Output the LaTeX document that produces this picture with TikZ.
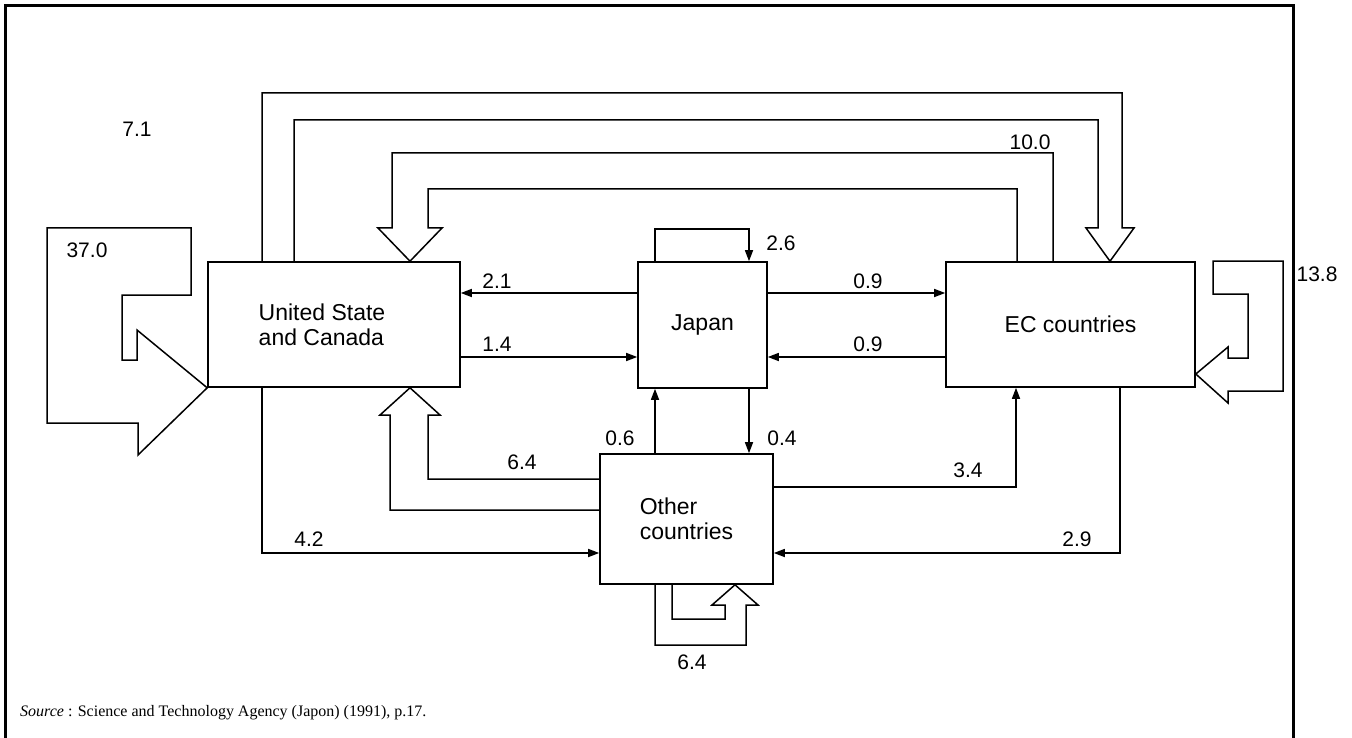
\documentclass[tikz,border=0pt]{standalone}
\usepackage{fontspec}
\setmainfont{Liberation Sans}
\newfontfamily\srcfont{Liberation Serif}
\usetikzlibrary{arrows.meta,calc}
\begin{document}
\begin{tikzpicture}[x=1pt,y=-1pt,
  box/.style={draw,line width=1.6pt,rectangle,inner sep=0pt,font=\fontsize{23}{25}\selectfont,align=left},
  conn/.style={line width=1.5pt},
  arr/.style={conn,-{Triangle[length=11pt,width=8pt]}},
  hollow/.style={line width=1.5pt,line join=miter},
  lbl/.style={font=\fontsize{21}{21}\selectfont,inner sep=0pt}]
\useasboundingbox (0,0) rectangle (1352,738);
\fill[white] (0,0) rectangle (1352,738);
\draw[line width=3pt] (5,745) -- (5,6) -- (1293,6) -- (1293,745);
% boxes
\node[box,minimum width=252pt,minimum height=125pt] (us) at (334,324.5) {United State\rule{24pt}{0pt}\\and Canada};
\node[box,minimum width=129pt,minimum height=126pt] (jp) at (702.5,325) {Japan};
\node[box,minimum width=249pt,minimum height=125pt] (ec) at (1070.5,324.5) {EC countries};
\node[box,minimum width=173pt,minimum height=130pt] (ot) at (686.5,519) {Other\\countries};
% straight connectors
\draw[arr] (jp.west |- 0,293) -- (us.east |- 0,293);
\draw[arr] (us.east |- 0,357) -- (jp.west |- 0,357);
\draw[arr] (jp.east |- 0,293) -- (ec.west |- 0,293);
\draw[arr] (ec.west |- 0,357) -- (jp.east |- 0,357);
\draw[arr] (jp.north -| 655,0) -- (655,229) -- (749,229) -- (jp.north -| 749,0);
\draw[arr] (jp.south -| 749,0) -- (ot.north -| 749,0);
\draw[arr] (ot.north -| 655,0) -- (jp.south -| 655,0);
\draw[arr] (us.south -| 262,0) -- (262,553) -- (ot.west |- 0,553);
\draw[arr] (ot.east |- 0,487) -- (1016,487) -- (ec.south -| 1016,0);
\draw[arr] (ec.south -| 1120,0) -- (1120,553) -- (ot.east |- 0,553);
% hollow arrows
\draw[hollow] (us.north -| 262,0) -- (262,93) -- (1122,93) -- (1122,228) -- (1134,228) -- (ec.north -| 1110,0) -- (1086,228) -- (1098,228) -- (1098,120) -- (294,120) -- (us.north -| 294,0);
\draw[hollow] (ec.north -| 1053,0) -- (1053,153) -- (392,153) -- (392,228) -- (378,228) -- (us.north -| 410,0) -- (442,228) -- (428,228) -- (428,189) -- (1017,189) -- (ec.north -| 1017,0);
\draw[hollow] (ot.west |- 0,510) -- (390,510) -- (390,415) -- (380,415) -- (us.south -| 410,0) -- (440,415) -- (428,415) -- (428,479) -- (ot.west |- 0,479);
\draw[hollow] (ot.south -| 655,0) -- (655,645) -- (746,645) -- (746,605) -- (758,605) -- (ot.south -| 735,0) -- (712,605) -- (725,605) -- (725,619) -- (672,619) -- (ot.south -| 672,0);
\draw[hollow] (191,228) -- (47,228) -- (47,423) -- (138,423) -- (138,455) -- (us.south west) -- (137,330) -- (137,360) -- (122,360) -- (122,295) -- (191,295) -- cycle;
\draw[hollow] (1213,261) -- (1283,261) -- (1283,391) -- (1228,391) -- (1228,403) -- (ec.east |- 0,374) -- (1228,347) -- (1228,358) -- (1248,358) -- (1248,294) -- (1213,294) -- cycle;
% labels
\node[lbl] (l71) at (137,129) {7.1};
\node[lbl] (l370) at (87,250) {37.0};
\node[lbl] (l100) at (1030,142) {10.0};
\node[lbl] (l26) at (781,243) {2.6};
\node[lbl] (l21) at (497,281) {2.1};
\node[lbl] (l14) at (497,344) {1.4};
\node[lbl] (l09a) at (868,281) {0.9};
\node[lbl] (l09b) at (868,344) {0.9};
\node[lbl] (l138) at (1317,274) {13.8};
\node[lbl] (l06) at (620,438) {0.6};
\node[lbl] (l04) at (782,438) {0.4};
\node[lbl] (l64a) at (522,462) {6.4};
\node[lbl] (l34) at (968,470) {3.4};
\node[lbl] (l42) at (309,539) {4.2};
\node[lbl] (l29) at (1077,539) {2.9};
\node[lbl] (l64b) at (692,662) {6.4};
\node[anchor=west,inner sep=0pt,font=\srcfont\fontsize{16}{16}\selectfont] (src) at (20,713) {\textit{Source} : Science and Technology Agency (Japon) (1991), p.17.};
\end{tikzpicture}
\end{document}
